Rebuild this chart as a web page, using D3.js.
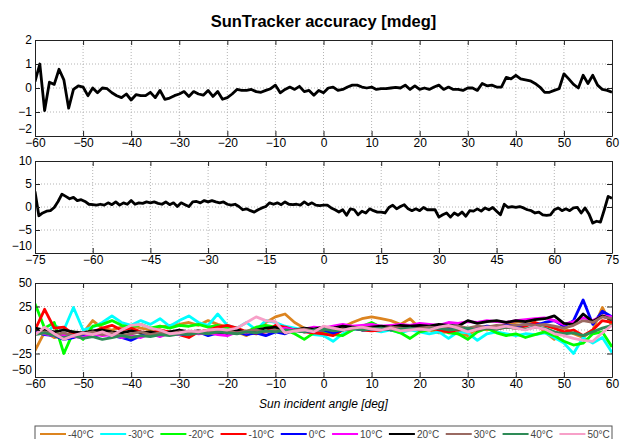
<!DOCTYPE html>
<html>
<head>
<meta charset="utf-8">
<title>SunTracker accuracy</title>
<style>
  body { margin: 0; background: #fff; }
  svg { display: block; font-family: "Liberation Sans", Arial, sans-serif; }
  .grid line { stroke: #b4b4b4; stroke-dasharray: 1,2; }
  .axis path, .axis line { stroke: #222; }
  .axis text { fill: #000; font-size: 12px; }
</style>
</head>
<body>
<svg></svg>
<script src="https://d3js.org/d3.v7.min.js"></script>
<script>
// ---- data ----
// panel 1: accuracy vs sun angle, -60..60 deg (1 deg step)
const angles1 = d3.range(-60, 61, 1);
const acc1 = [0.27, 1.0, -0.94, 0.24, 0.15, 0.78, 0.34, -0.84, -0.06, 0.09,
  0.04, -0.32, 0.0, -0.2, 0.0, -0.03, -0.2, -0.32, -0.4, -0.25,
  -0.5, -0.28, -0.32, -0.32, -0.18, -0.4, -0.1, -0.47, -0.42, -0.32,
  -0.25, -0.15, -0.35, -0.15, -0.25, -0.3, -0.1, -0.35, -0.15, -0.47,
  -0.4, -0.25, -0.06, -0.1, -0.1, -0.06, -0.15, -0.18, -0.1, -0.03,
  0.12, -0.2, -0.06, 0.04, -0.06, 0.07, -0.15, -0.1, -0.3, -0.1,
  -0.2, 0.0, 0.04, -0.1, -0.06, 0.04, 0.12, 0.12, 0.04, 0.0,
  0.04, -0.06, -0.03, -0.03, 0.0, 0.03, 0.0, 0.12, -0.06, 0.09,
  -0.06, 0.0, -0.06, 0.04, 0.12, -0.06, 0.04, -0.06, -0.06, -0.1,
  0.0, 0.0, -0.1, 0.19, 0.09, 0.12, 0.04, 0.04, 0.44, 0.38,
  0.53, 0.38, 0.34, 0.3, 0.19, 0.04, -0.18, -0.18, -0.1, -0.03,
  0.59, 0.38, 0.15, 0.0, 0.53, 0.19, 0.53, 0.12, -0.06, -0.1, -0.18];

// panel 2: -75..75 deg (1 deg step)
const angles2 = d3.range(-75, 76, 1);
const acc2 = [3.4, -1.9, -1.3, -0.9, -0.8, -0.1, 1.2, 2.8, 2.3, 1.8,
  2.1, 1.4, 1.6, 1.2, 0.6, 0.5, 0.4, 0.6, 0.4, 0.9,
  0.5, 1.1, 0.4, 0.9, 0.6, 1.4, 0.6, 0.9, 0.8, 1.1,
  0.9, 1.1, 0.8, 0.6, 1.1, 0.5, 0.9, 0.1, 0.9, 0.5,
  0.1, 1.1, 1.2, 0.9, 1.4, 1.1, 1.4, 1.1, 0.9, 1.1,
  0.6, 0.4, 0.6, 0.1, -0.6, -0.4, -0.8, -1.1, -0.6, -0.2,
  0.1, 0.9, 0.6, 0.9, 0.5, 1.1, 0.6, 0.5, 0.6, 0.4,
  1.1, 0.5, 0.9, 0.4, 0.3, 0.4, 0.4, -0.2, -0.6, -1.1,
  -0.6, -1.8, -0.4, -0.6, -1.7, -0.9, -1.3, -0.4, -0.8, -1.1,
  -1.1, -1.3, -0.1, 0.4, -0.4, 0.1, 0.5, -0.4, -0.8, -0.4,
  -0.8, -0.1, -0.6, -0.6, -0.6, -2.2, -1.7, -1.3, -2.2, -1.3,
  -1.8, -1.1, -2.0, -0.8, -0.9, -0.4, -0.9, -0.2, -0.6, -0.1,
  -0.9, -1.7, 0.6, -0.1, 0.1, -0.1, 0.1, -0.2, -0.6, -0.8,
  -1.3, -1.1, -1.7, -1.8, -1.7, -0.6, -0.2, -0.8, -0.4, -0.8,
  -0.2, -0.1, -1.3, -0.2, -1.5, -3.5, -3.1, -3.3, -0.6, 2.3, 1.9];

// panel 3: per temperature, -60..60 deg (2 deg step)
const angles3 = d3.range(-60, 61, 2);
const tempLabels = ["-40°C", "-30°C", "-20°C", "-10°C", "0°C", "10°C", "20°C", "30°C", "40°C", "50°C"];
const tempColors = ["#dc8420", "#00ffff", "#00ff00", "#ff0000", "#0000ff", "#ff00ff", "#000000", "#9a6a62", "#2e8b57", "#f7a0c8"];
const tM40 = [-22, -2, -8, -6, -8, -3, 10, 2, 0, 3, 5, 2, 0, 3, 5, 6, 8, 5, 10, 6, 3, -2, -6, 0, 8, 14, 17, 8, 2, 0,
  0, -2, 3, 8, 12, 14, 12, 10, 6, 12, 2, 0, -3, -2, -4, -6, 2, 0, 3, 6, 8, 10, 8, -2, -10, 2, -4, -8, 0, 24, 4];
const tM30 = [0, -5, 5, 0, 24, 0, 3, 8, 15, 8, 5, 10, 6, 12, 4, 10, 15, 8, 5, 17, 5, 2, 8, 0, 10, 8, 4, 2, 0, -5,
  -6, -12, -4, 0, 2, 0, -2, 0, -3, 0, -2, -4, -2, -9, -2, -3, -11, -4, -2, -4, -6, -4, -5, -3, -8, -14, -25, -8, -14, -8, -24];
const tM20 = [28, 2, 8, -25, -2, -10, 4, 6, 10, 5, 3, 6, 2, 4, 2, 5, 4, 6, 3, 5, 2, 0, -2, 3, 5, 3, 0, -4, -10, -3,
  -2, -5, -6, 0, 4, 8, 3, 0, -3, -9, -2, 0, 2, -3, -4, -10, -2, 2, -3, -6, -4, -8, -5, -2, -6, -12, -16, -14, -4, -2, -18];
const tM10 = [0, 22, 2, 3, -5, -3, -2, 2, 5, 0, 2, -2, -3, 0, -2, -5, -8, -2, 0, 3, 5, 2, -2, -4, -2, 5, 3, 0, -2, -3,
  -4, -6, 0, 2, 0, -1, 0, 2, 0, 4, 0, 2, 0, -2, 0, 1, 0, 2, 1, 3, 2, 4, 8, 5, 2, -2, 0, -6, 0, 10, 8];
const t0 = [-2, -5, -6, -10, -8, -5, -7, -4, -6, -8, -11, -6, -4, -6, -3, -5, -4, -2, -6, -3, -4, -2, -5, -3, -6, -2, -4, 0, -2, -1,
  0, -3, 0, 2, 0, 1, 2, 0, 2, 3, 2, 4, 2, 1, 3, 0, 2, 4, 3, 5, 4, 6, 5, 8, 10, 4, 10, 32, 6, 20, 14];
const t10 = [-3, -4, -6, -5, -7, -8, -4, -6, -5, -8, -6, -8, -4, -7, -3, -5, -2, -4, -3, -5, -6, -2, -3, 0, -2, 0, 2, 0, 1, 3,
  2, 4, 6, 4, 5, 6, 4, 5, 6, 5, 7, 6, 5, 8, 7, 9, 8, 10, 9, 8, 10, 11, 12, 13, 10, 6, 9, 13, 10, 15, 14];
const t20 = [2, 0, -2, 0, -2, -3, -1, 0, -2, -3, -1, -3, -2, -4, -2, 0, -2, -1, -3, -2, -3, 0, -2, 0, 2, 3, -3, 0, 2, 1,
  3, 2, 4, 3, 2, 3, 4, 3, 5, 4, 5, 4, 6, 5, 4, 10, 7, 9, 10, 8, 10, 9, 11, 12, 15, 7, 6, 17, 9, 15, 11];
const t30 = [-4, -2, -5, -3, -6, -4, -2, -5, -3, -6, -4, -2, -5, -3, -4, -2, -3, -1, -3, -2, -1, -3, -1, 0, -2, 0, -2, 0, 1, -1,
  0, 2, 0, 1, 3, 2, 1, 3, 2, 1, 2, 3, 2, 3, 4, 2, 4, 3, 5, 4, 5, 6, 5, 6, 4, 2, 5, 10, 8, 14, 12];
const t40 = [-5, -3, -6, -8, -6, -9, -7, -10, -8, -6, -8, -6, -7, -5, -6, -4, -5, -3, -4, -2, -3, -4, -2, -3, -1, -2, 0, -1, -2, 0,
  1, -1, 0, 2, 0, 1, 2, 0, 1, 2, 0, 1, 2, 0, 1, 2, 0, 2, 1, 3, 2, 1, 3, 2, -2, -4, -3, -6, -2, 2, 5];
const t50 = [-5, 3, -4, -10, -6, -3, -5, -2, -6, 0, 5, 6, 2, 0, -4, -3, -1, -2, 0, 1, 0, 2, 8, 14, 10, 9, -3, -1, 0, -2,
  4, 2, 0, 2, 3, 1, 0, 2, -1, 0, 1, 0, 3, 5, 2, -2, 1, 3, 2, 4, 2, 0, 3, 1, -4, -6, -9, -11, -12, -3, 5];
const tempSeries = [tM40, tM30, tM20, tM10, t0, t10, t20, t30, t40, t50];

// ticks
const xTicks1 = [-60, -50, -40, -30, -20, -10, 0, 10, 20, 30, 40, 50, 60];
const yTicks1 = [-2, -1, 0, 1, 2];
const xTicks2 = [-75, -60, -45, -30, -15, 0, 15, 30, 45, 60, 75];
const yTicks2 = [-10, -5, 0, 5, 10];
const yTicks3 = [-50, -25, 0, 25, 50];

// ---- layout ----
const width = 627, height = 439;
const left = 35, right = 612;
const svg = d3.select("svg").attr("width", width).attr("height", height);

svg.append("text")
  .attr("x", (left + right) / 2).attr("y", 27)
  .attr("text-anchor", "middle")
  .style("font-size", "16.5px").style("font-weight", "bold")
  .text("SunTracker accuracy [mdeg]");

function drawPanel(top, bottom, xDom, yDom, xTicks, yTicks, series, colors, id) {
  let x = d3.scaleLinear().domain(xDom).range([left, right]);
  let y = d3.scaleLinear().domain(yDom).range([bottom, top]);
  let g = svg.append("g");

  // dotted grid
  let grid = g.append("g").attr("class", "grid");
  grid.selectAll(".vx").data(xTicks.slice(1, -1)).enter().append("line")
    .attr("x1", d => x(d)).attr("x2", d => x(d)).attr("y1", top).attr("y2", bottom);
  grid.selectAll(".hy").data(yTicks.slice(1, -1)).enter().append("line")
    .attr("y1", d => y(d)).attr("y2", d => y(d)).attr("x1", left).attr("x2", right);

  // lines
  g.append("clipPath").attr("id", id).append("rect")
    .attr("x", left).attr("y", top).attr("width", right - left).attr("height", bottom - top);
  let line = d3.line().x(d => x(d[0])).y(d => y(d[1]));
  g.append("g").attr("clip-path", "url(#" + id + ")")
    .selectAll("path").data(series).enter().append("path")
    .attr("d", d => line(d))
    .attr("fill", "none")
    .attr("stroke", (d, i) => colors[i])
    .attr("stroke-width", 2.8)
    .attr("stroke-linejoin", "round");

  // box axes with inward ticks
  g.append("g").attr("class", "axis").attr("transform", "translate(0," + bottom + ")")
    .call(d3.axisBottom(x).tickValues(xTicks).tickSize(-5).tickSizeOuter(0).tickPadding(2)
      .tickFormat(d3.format("d")));
  g.append("g").attr("class", "axis").attr("transform", "translate(0," + top + ")")
    .call(d3.axisTop(x).tickValues(xTicks).tickSize(-5).tickSizeOuter(0).tickFormat(""));
  let yAxis = g.append("g").attr("class", "axis").attr("transform", "translate(" + left + ",0)")
    .call(d3.axisLeft(y).tickValues(yTicks).tickSize(-5).tickSizeOuter(0).tickPadding(3)
      .tickFormat(d3.format("d")));
  // lowest y label sits just above the x labels
  yAxis.selectAll(".tick text").filter(d => d === yDom[0]).attr("dy", "-0.3em");
  g.append("g").attr("class", "axis").attr("transform", "translate(" + right + ",0)")
    .call(d3.axisRight(y).tickValues(yTicks).tickSize(-5).tickSizeOuter(0).tickFormat(""));
  g.selectAll(".axis text").style("font-family", "Liberation Sans, Arial, sans-serif");
}

drawPanel(40, 136, [-60, 60], [-2, 2], xTicks1, yTicks1,
  [d3.zip(angles1, acc1)], ["#000"], "c1");
drawPanel(161, 253, [-75, 75], [-10, 10], xTicks2, yTicks2,
  [d3.zip(angles2, acc2)], ["#000"], "c2");
drawPanel(283, 377, [-60, 60], [-50, 50], xTicks1, yTicks3,
  tempSeries.map(s => d3.zip(angles3, s)), tempColors, "c3");

svg.append("text")
  .attr("x", (left + right) / 2).attr("y", 408)
  .attr("text-anchor", "middle")
  .style("font-size", "12px").style("font-style", "italic")
  .text("Sun incident angle [deg]");

// legend
svg.append("rect")
  .attr("x", left).attr("y", 426).attr("width", right - left).attr("height", 24)
  .attr("fill", "#fff").attr("stroke", "#555");
let lx = 40;
tempLabels.forEach((lab, i) => {
  svg.append("line")
    .attr("x1", lx).attr("x2", lx + 26).attr("y1", 434).attr("y2", 434)
    .attr("stroke", tempColors[i]).attr("stroke-width", 2);
  let t = svg.append("text")
    .attr("x", lx + 28).attr("y", 437.5)
    .style("font-size", "10px").style("fill", "#444")
    .text(lab);
  lx += 28 + t.node().getComputedTextLength() + 6.5;
});
</script>
</body>
</html>
